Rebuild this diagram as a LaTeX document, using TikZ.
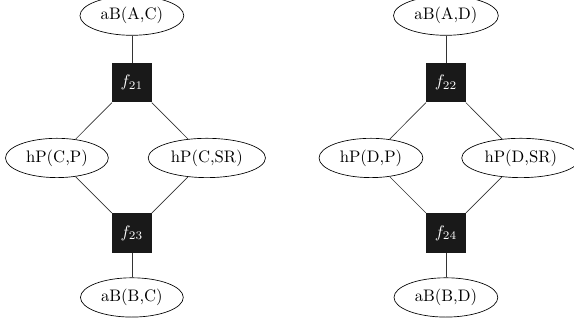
\documentclass[tikz,border=0pt]{standalone}
\usepackage{tikz}
\usetikzlibrary{positioning,shapes.geometric}

\begin{document}
\begin{tikzpicture}[
    varnode/.style={ellipse, draw, fill=white},
    factor/.style={rectangle, fill=black!90, text=white, minimum size=0.83cm, inner sep=0pt},
    edge/.style={draw=black!80}
]
\useasboundingbox (0,0) rectangle (12.10,6.75);

% Left graph (C)
\node[varnode] (abac) at (2.78, 6.42) {aB(A,C)};
\node[factor]  (f21)  at (2.78, 5.01) {$f_{21}$};
\node[varnode] (hpcp) at (1.20, 3.42) {hP(C,P)};
\node[varnode] (hpcsr) at (4.36, 3.42) {hP(C,SR)};
\node[factor]  (f23)  at (2.78, 1.84) {$f_{23}$};
\node[varnode] (abbc) at (2.78, 0.48) {aB(B,C)};

% Right graph (D)
\node[varnode] (abad) at (9.40, 6.42) {aB(A,D)};
\node[factor]  (f22)  at (9.40, 5.01) {$f_{22}$};
\node[varnode] (hpdp) at (7.82, 3.42) {hP(D,P)};
\node[varnode] (hpdsr) at (10.98, 3.42) {hP(D,SR)};
\node[factor]  (f24)  at (9.40, 1.84) {$f_{24}$};
\node[varnode] (abbd) at (9.40, 0.48) {aB(B,D)};

% Edges
\foreach \a/\b in {abac/f21, f21/hpcp, f21/hpcsr, hpcp/f23, hpcsr/f23, f23/abbc,
                   abad/f22, f22/hpdp, f22/hpdsr, hpdp/f24, hpdsr/f24, f24/abbd} {
    \draw[edge] (\a) -- (\b);
}

\end{tikzpicture}
\end{document}
